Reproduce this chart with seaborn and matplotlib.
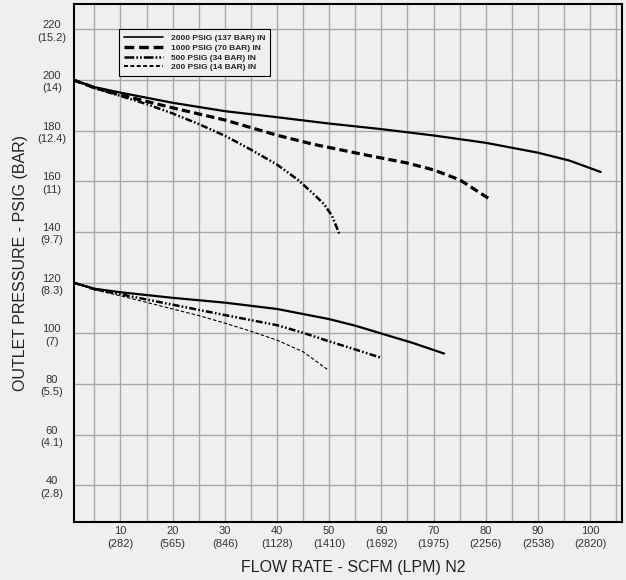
import matplotlib
matplotlib.use("Agg")
import matplotlib.pyplot as plt
from matplotlib.lines import Line2D
from matplotlib.ticker import MultipleLocator
import seaborn as sns

# ---- data ----
flow_2000_hi = [1, 5, 10, 20, 30, 40, 50, 60, 70, 80, 90, 96, 102]
p_2000_hi = [200, 197.2, 195, 191, 187.7, 185.3, 182.8, 180.6, 178.1, 175.2, 171.3, 168.2, 163.7]

flow_1000_hi = [1, 5, 10, 20, 30, 35, 40, 47, 57.5, 65, 70, 75, 80.5]
p_1000_hi = [200, 197, 194.1, 189, 184.2, 181.2, 178.2, 174.6, 170.2, 167.2, 164.5, 160.6, 153.3]

flow_500_hi = [1, 5, 10, 15, 20, 25, 30, 35, 40, 44, 47, 49, 50.5, 52]
p_500_hi = [200, 196.8, 193.7, 190.5, 186.8, 182.6, 178, 172.5, 166.6, 160.6, 155, 151, 146.5, 139]

flow_2000_lo = [1, 5, 10, 20, 30, 40, 50, 55, 60, 66, 72]
p_2000_lo = [120, 117.6, 116.2, 114, 112.1, 109.6, 105.6, 103, 99.9, 96.2, 92]

flow_500_lo = [1, 5, 10, 20, 30, 40, 45, 50, 55, 60]
p_500_lo = [120, 117.4, 115.4, 111.3, 107.2, 103.2, 100.2, 96.8, 93.6, 90.3]

flow_200_lo = [1, 5, 10, 20, 25, 30, 35, 40, 45, 49.6]
p_200_lo = [120, 117.2, 114.8, 109.6, 107, 104, 100.8, 97.3, 92.7, 85.8]

x_tick_values = [10, 20, 30, 40, 50, 60, 70, 80, 90, 100]
x_tick_lpm = ["282", "565", "846", "1128", "1410", "1692", "1975", "2256", "2538", "2820"]
y_tick_values = [40, 60, 80, 100, 120, 140, 160, 180, 200, 220]
y_tick_bar = ["2.8", "4.1", "5.5", "7", "8.3", "9.7", "11", "12.4", "14", "15.2"]

legend_labels = ["2000 PSIG (137 BAR) IN", "1000 PSIG (70 BAR) IN",
                 "500 PSIG (34 BAR) IN", "200 PSIG (14 BAR) IN"]

# ---- styling ----
BG = "#efefef"
GRID = "#a8a8a8"
sns.set_theme(style="white")
plt.rcParams["font.family"] = ["Liberation Sans", "DejaVu Sans"]
plt.rcParams["lines.scale_dashes"] = False

styles = {
    "2000": dict(color="black", linewidth=1.6, linestyle="-"),
    "1000": dict(color="black", linewidth=2.3, linestyle=(0, (6, 3))),
    "500": dict(color="black", linewidth=1.8, linestyle=(0, (5, 1.6, 1.2, 1.6, 1.2, 1.6))),
    "200": dict(color="black", linewidth=0.8, linestyle=(0, (2.5, 1.5))),
}
legend_styles = {
    "2000": dict(color="black", linewidth=1.2, linestyle="-"),
    "1000": dict(color="black", linewidth=2.4, linestyle=(0, (7, 3.5))),
    "500": dict(color="black", linewidth=1.8, linestyle=(0, (7, 1.5, 1.2, 1.5, 1.2, 1.5))),
    "200": dict(color="black", linewidth=1.4, linestyle=(0, (2.8, 1.8))),
}

fig = plt.figure(figsize=(6.26, 5.8), dpi=100, facecolor=BG)
ax = fig.add_axes([74 / 626, 1 - 522 / 580, 548 / 626, 518 / 580])
ax.set_facecolor(BG)

curves = [
    (flow_2000_hi, p_2000_hi, "2000"),
    (flow_1000_hi, p_1000_hi, "1000"),
    (flow_500_hi, p_500_hi, "500"),
    (flow_2000_lo, p_2000_lo, "2000"),
    (flow_500_lo, p_500_lo, "500"),
    (flow_200_lo, p_200_lo, "200"),
]
for xs, ys, key in curves:
    sns.lineplot(x=xs, y=ys, ax=ax, sort=False, estimator=None,
                 legend=False, zorder=3, **styles[key])

ax.set_xlim(1.1, 106.1)
ax.set_ylim(25.5, 230)

ax.set_xticks(x_tick_values,
              labels=[f"{v}\n({l})" for v, l in zip(x_tick_values, x_tick_lpm)])
ax.xaxis.set_minor_locator(MultipleLocator(5))
ax.set_yticks(y_tick_values,
              labels=[f"{v}\n({b})" for v, b in zip(y_tick_values, y_tick_bar)])

ax.grid(True, which="both", axis="x", color=GRID, linewidth=1.0)
ax.grid(True, which="major", axis="y", color=GRID, linewidth=1.0)
ax.set_axisbelow(True)
ax.tick_params(which="both", length=0)
ax.tick_params(axis="x", pad=3, labelsize=8, labelcolor="#333333")
ax.tick_params(axis="y", pad=16, labelsize=8, labelcolor="#333333")
for lbl in ax.get_xticklabels():
    lbl.set_linespacing(1.3)
    lbl.set_multialignment("center")
for lbl in ax.get_yticklabels():
    lbl.set_ha("center")
    lbl.set_multialignment("center")
    lbl.set_linespacing(1.3)

for s in ax.spines.values():
    s.set_color("black")
    s.set_linewidth(1.5)

ax.set_xlabel("FLOW RATE - SCFM (LPM) N2", fontsize=11.5, color="#222222")
ax.set_ylabel("OUTLET PRESSURE - PSIG (BAR)", fontsize=11.5, color="#222222")
ax.xaxis.set_label_coords(0.51, -0.073)
ax.yaxis.set_label_coords(-0.084, 0.5)

handles = [Line2D([], [], **legend_styles[k]) for k in ["2000", "1000", "500", "200"]]
leg = ax.legend(handles, legend_labels, loc="upper left",
                bbox_to_anchor=(0.0827, 0.951), borderaxespad=0,
                prop=dict(family=["Liberation Sans", "DejaVu Sans"], weight="bold", size=6),
                handlelength=4.6, handletextpad=1.0, labelspacing=0.22, borderpad=0.6,
                frameon=True, fancybox=False, framealpha=1)
leg.get_frame().set_facecolor(BG)
leg.get_frame().set_edgecolor("black")
leg.get_frame().set_linewidth(0.8)
leg.set_zorder(5)

fig.savefig("out.png", dpi=100, facecolor=BG)
